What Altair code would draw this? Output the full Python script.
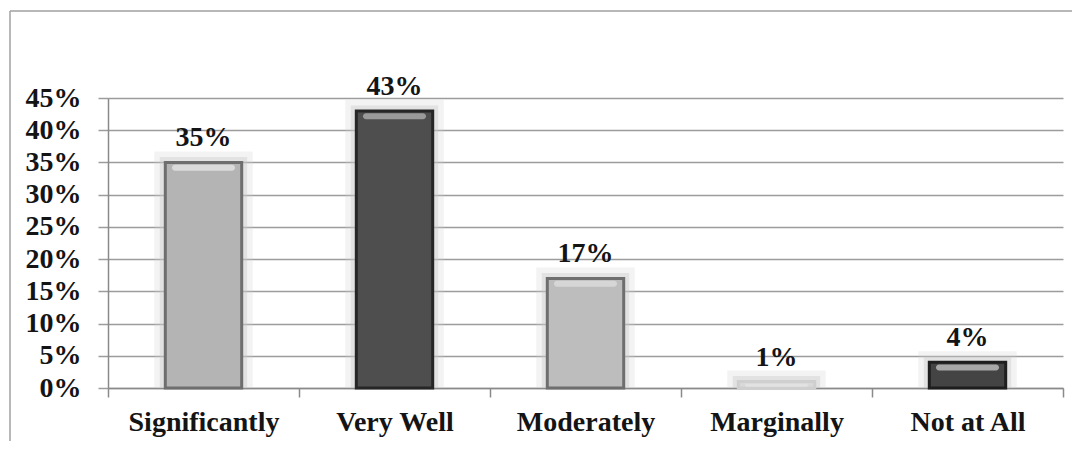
import altair as alt
import pandas as pd

categories = ["Significantly", "Very Well", "Moderately", "Marginally", "Not at All"]
values = [35, 43, 17, 1, 4]
fills = ["#b4b4b4", "#4e4e4e", "#bdbdbd", "#d9d9d9", "#444444"]
strokes = ["#6e6e6e", "#262626", "#6e6e6e", "#cfcfcf", "#1e1e1e"]
highlights = ["#dadada", "#9a9a9a", "#d6d6d6", "#e2e2e2", "#a8a8a8"]
tick_values = [0, 5, 10, 15, 20, 25, 30, 35, 40, 45]

df = pd.DataFrame({
    "cat": categories,
    "val": values,
    "fill": fills,
    "stroke": strokes,
    "hl": highlights,
    "label": [f"{v}%" for v in values],
})

FONT = "Liberation Serif, Times New Roman, Times, serif"
TXT = "#141414"

x = alt.X(
    "cat:N", sort=categories,
    scale=alt.Scale(paddingInner=0, paddingOuter=0),
    axis=alt.Axis(title=None, labelAngle=0, tickBand="extent", grid=False,
                  domainColor="#8a8a8a", tickColor="#8a8a8a", domainWidth=1.5,
                  tickWidth=1.5, tickSize=9, labelPadding=11, labelFont=FONT,
                  labelFontSize=28, labelFontWeight="bold", labelColor=TXT),
)
y_scale = alt.Scale(domain=[0, 45], nice=False)
y_axis = alt.Axis(title=None, values=tick_values, labelExpr="datum.value + '%'",
                  grid=True, gridColor="#9c9c9c", gridWidth=1.5,
                  domainColor="#8a8a8a", domainWidth=1.5, tickColor="#9c9c9c",
                  tickWidth=1.5, tickSize=10, labelPadding=17, labelFont=FONT,
                  labelFontSize=28, labelFontWeight="bold", labelColor=TXT)
y = alt.Y("val:Q", scale=y_scale, axis=y_axis)

base = alt.Chart(df)

glow_outer = base.mark_bar(width=alt.RelativeBandSize(0.4), fill="#d8d8d8",
                           stroke="#d0d0d0", strokeWidth=22, strokeOpacity=0.25,
                           clip=True).encode(x=x, y=y)
glow_inner = base.mark_bar(width=alt.RelativeBandSize(0.4), fill="#d8d8d8",
                           stroke="#c8c8c8", strokeWidth=11, strokeOpacity=0.4,
                           clip=True).encode(x=x, y=y)

bars = base.mark_bar(width=alt.RelativeBandSize(0.4), strokeWidth=3).encode(
    x=x, y=y,
    color=alt.Color("fill:N", scale=None),
    stroke=alt.Stroke("stroke:N", scale=None),
)

highlight = base.transform_calculate(
    top="max(datum.val - 0.35, 0.4)", bot="max(datum.val - 1.3, 0.2)"
).mark_bar(width=alt.RelativeBandSize(0.33), cornerRadius=3).encode(
    x=x,
    y=alt.Y("top:Q", scale=y_scale, axis=y_axis),
    y2="bot:Q",
    color=alt.Color("hl:N", scale=None),
)

labels = base.mark_text(dy=-16, baseline="alphabetic", font=FONT, fontSize=28,
                        fontWeight="bold", color=TXT).encode(
    x=x, y=y, text="label:N")

one = alt.Chart(pd.DataFrame({"a": [0]}))
frame_top = one.mark_rule(color="#a0a0a0", strokeWidth=1.5).encode(
    x=alt.value(-98), x2=alt.value(964), y=alt.value(-87))
frame_left = one.mark_rule(color="#a0a0a0", strokeWidth=1.5).encode(
    x=alt.value(-98), y=alt.value(-87), y2=alt.value(343))

chart = alt.layer(frame_top, frame_left, glow_outer, glow_inner, bars, highlight,
                  labels).properties(
    width=955, height=290,
    padding={"left": 1, "top": 2, "right": 0, "bottom": 0},
    background="white",
).configure_view(stroke=None)

chart.save("out.html", embed_options={"renderer": "svg", "actions": False})
